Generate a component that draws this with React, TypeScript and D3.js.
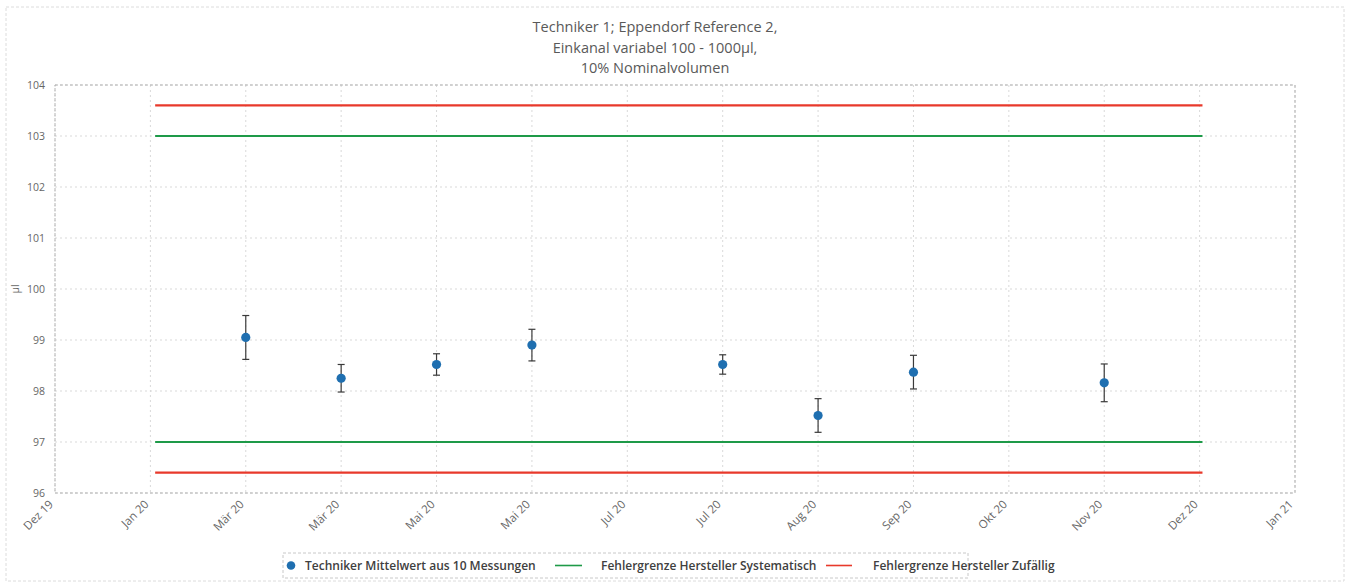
import React from "react";
import * as d3 from "d3";

// Axis slots along the date axis (one label per major gridline)
const tickLabels = [
  "Dez 19", "Jan 20", "Mär 20", "Mär 20", "Mai 20", "Mai 20", "Jul 20",
  "Jul 20", "Aug 20", "Sep 20", "Okt 20", "Nov 20", "Dez 20", "Jan 21",
];

// Technician means (10 measurements each) with their spread
const measureSlots = [2, 3, 4, 5, 7, 8, 9, 11];
const measureMeans = [99.05, 98.25, 98.52, 98.9, 98.52, 97.52, 98.37, 98.16];
const measureErr = [0.43, 0.27, 0.21, 0.31, 0.19, 0.33, 0.33, 0.37];

// Manufacturer limits, drawn across the measurement period
const limitSpan = [1.05, 12.03];
const systematicLimits = [97.0, 103.0];
const randomLimits = [96.4, 103.6];

const yTicks = [96, 97, 98, 99, 100, 101, 102, 103, 104];
const titleLines = [
  "Techniker 1; Eppendorf Reference 2,",
  "Einkanal variabel 100 - 1000µl,",
  "10% Nominalvolumen",
];

const W = 1353;
const H = 586;
const plot = { left: 55, right: 1295, top: 85, bottom: 493 };
const FONT = "'Open Sans', 'Noto Sans', sans-serif";

export default function App() {
  const x = d3.scaleLinear().domain([0, tickLabels.length - 1]).range([plot.left, plot.right]);
  const y = d3.scaleLinear().domain([96, 104]).range([plot.bottom, plot.top]);

  const hline = (v: number) =>
    d3.line<number>().x((s) => x(s)).y(() => y(v))(limitSpan) as string;

  const points = measureSlots.map((s, i) => ({
    cx: x(s),
    mean: measureMeans[i],
    lo: measureMeans[i] - measureErr[i],
    hi: measureMeans[i] + measureErr[i],
  }));

  return (
    <div style={{ position: "absolute", left: 0, top: 0 }}>
      <svg width={W} height={H} style={{ display: "block", background: "#fff" }}>
        {/* chart frame */}
        <rect x={6} y={7} width={1338} height={574} fill="none" stroke="#dcdcdc" strokeDasharray="3,2" />

        {/* title */}
        {titleLines.map((t, i) => (
          <text key={i} x={655} y={32 + i * 20.5} textAnchor="middle" fontFamily={FONT} fontSize={14.5} fill="#595959">
            {t}
          </text>
        ))}

        {/* horizontal gridlines */}
        {yTicks.map((v) => (
          <line key={"h" + v} x1={plot.left} x2={plot.right} y1={y(v)} y2={y(v)} stroke="#d9d9d9" strokeDasharray="2,3" />
        ))}
        {/* vertical gridlines */}
        {tickLabels.map((_, i) => (
          <line key={"v" + i} x1={x(i)} x2={x(i)} y1={plot.top} y2={plot.bottom} stroke="#d9d9d9" strokeDasharray="2,3" />
        ))}
        {/* plot area border */}
        <rect x={plot.left} y={plot.top} width={plot.right - plot.left} height={plot.bottom - plot.top} fill="none" stroke="#b4b4b4" strokeDasharray="3,2" />

        {/* y tick labels */}
        {yTicks.map((v) => (
          <text key={"yl" + v} x={45} y={y(v) + 4} textAnchor="end" fontFamily={FONT} fontSize={10.5} fill="#666">
            {v}
          </text>
        ))}
        <text transform={`translate(19,${(plot.top + plot.bottom) / 2}) rotate(-90)`} textAnchor="middle" fontFamily={FONT} fontSize={10.5} fill="#666">
          µl
        </text>

        {/* x tick labels */}
        {tickLabels.map((t, i) => (
          <text key={"xl" + i} transform={`translate(${x(i) - 1},${plot.bottom + 12}) rotate(-45)`} textAnchor="end" fontFamily={FONT} fontSize={11.5} fill="#666">
            {t}
          </text>
        ))}

        {/* manufacturer limits */}
        {randomLimits.map((v) => (
          <path key={"r" + v} d={hline(v)} stroke="#e8392b" strokeWidth={2.2} fill="none" />
        ))}
        {systematicLimits.map((v) => (
          <path key={"s" + v} d={hline(v)} stroke="#1e9a48" strokeWidth={2.2} fill="none" />
        ))}

        {/* error bars and means */}
        {points.map((p, i) => (
          <g key={"p" + i}>
            <line x1={p.cx} x2={p.cx} y1={y(p.hi)} y2={y(p.lo)} stroke="#3a3a3a" strokeWidth={1.2} />
            <line x1={p.cx - 3.5} x2={p.cx + 3.5} y1={y(p.hi)} y2={y(p.hi)} stroke="#3a3a3a" strokeWidth={1.2} />
            <line x1={p.cx - 3.5} x2={p.cx + 3.5} y1={y(p.lo)} y2={y(p.lo)} stroke="#3a3a3a" strokeWidth={1.2} />
            <circle cx={p.cx} cy={y(p.mean)} r={4.6} fill="#1f6fb0" />
          </g>
        ))}

        {/* legend */}
        <rect x={283} y={553} width={685} height={25} fill="#fff" stroke="#c8c8c8" strokeDasharray="3,2" />
        <circle cx={291} cy={565.5} r={4.3} fill="#1f6fb0" />
        <text x={305} y={569.5} fontFamily={FONT} fontSize={12} fontWeight={600} fill="#404040">
          Techniker Mittelwert aus 10 Messungen
        </text>
        <line x1={555} x2={582} y1={565.5} y2={565.5} stroke="#1e9a48" strokeWidth={1.6} />
        <text x={601} y={569.5} fontFamily={FONT} fontSize={12} fontWeight={600} fill="#404040">
          Fehlergrenze Hersteller Systematisch
        </text>
        <line x1={826} x2={852} y1={565.5} y2={565.5} stroke="#e8392b" strokeWidth={1.6} />
        <text x={873} y={569.5} fontFamily={FONT} fontSize={12} fontWeight={600} fill="#404040">
          Fehlergrenze Hersteller Zufällig
        </text>
      </svg>
    </div>
  );
}
